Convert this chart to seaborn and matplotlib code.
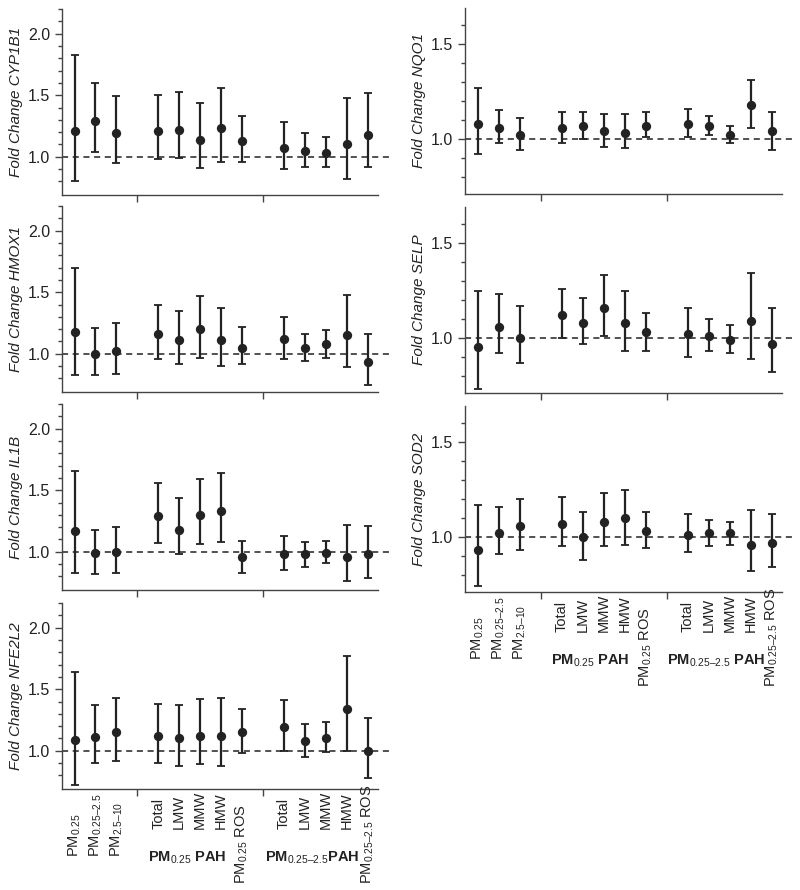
import seaborn as sns
import matplotlib.pyplot as plt
import pandas as pd

# theme first, fonts after (set_theme resets font.family)
sns.set_theme(style="ticks")
plt.rcParams['font.family'] = ['Liberation Sans', 'DejaVu Sans']
plt.rcParams['mathtext.fontset'] = 'custom'
plt.rcParams['mathtext.rm'] = 'Liberation Sans'
plt.rcParams['mathtext.it'] = 'Liberation Sans:italic'
plt.rcParams['mathtext.bf'] = 'Liberation Sans:bold'

# ---- data ----
group1 = ['PM$_{0.25}$', 'PM$_{0.25\u20132.5}$', 'PM$_{2.5\u201310}$']
group2 = ['Total', 'LMW', 'MMW', 'HMW', 'PM$_{0.25}$ ROS']
group3 = ['Total', 'LMW', 'MMW', 'HMW', 'PM$_{0.25\u20132.5}$ ROS']
titles_left = ['PM$_{0.25}$ PAH', 'PM$_{0.25\u20132.5}$PAH']
titles_right = ['PM$_{0.25}$ PAH', 'PM$_{0.25\u20132.5}$ PAH']

fc_cyp1b1 = [1.21, 1.29, 1.19, 1.21, 1.22, 1.14, 1.23, 1.13, 1.07, 1.05, 1.03, 1.10, 1.18]
lo_cyp1b1 = [0.80, 1.04, 0.95, 0.98, 0.99, 0.91, 0.96, 0.96, 0.90, 0.92, 0.92, 0.82, 0.92]
hi_cyp1b1 = [1.83, 1.60, 1.49, 1.50, 1.53, 1.44, 1.56, 1.33, 1.28, 1.19, 1.16, 1.48, 1.52]

fc_hmox1 = [1.18, 1.00, 1.02, 1.16, 1.11, 1.20, 1.11, 1.05, 1.12, 1.05, 1.08, 1.15, 0.93]
lo_hmox1 = [0.83, 0.83, 0.84, 0.96, 0.92, 0.97, 0.90, 0.92, 0.96, 0.94, 0.97, 0.89, 0.75]
hi_hmox1 = [1.70, 1.21, 1.25, 1.40, 1.35, 1.47, 1.37, 1.22, 1.30, 1.16, 1.19, 1.48, 1.16]

fc_il1b = [1.17, 0.99, 1.00, 1.29, 1.18, 1.30, 1.33, 0.96, 0.98, 0.98, 0.99, 0.96, 0.98]
lo_il1b = [0.83, 0.82, 0.83, 1.07, 0.98, 1.06, 1.08, 0.83, 0.85, 0.88, 0.91, 0.76, 0.79]
hi_il1b = [1.66, 1.18, 1.20, 1.56, 1.44, 1.59, 1.64, 1.09, 1.13, 1.08, 1.09, 1.22, 1.21]

fc_nfe2l2 = [1.09, 1.11, 1.15, 1.12, 1.10, 1.12, 1.12, 1.15, 1.19, 1.08, 1.10, 1.34, 1.00]
lo_nfe2l2 = [0.72, 0.90, 0.92, 0.90, 0.88, 0.89, 0.88, 0.98, 1.00, 0.95, 0.99, 1.00, 0.78]
hi_nfe2l2 = [1.64, 1.37, 1.43, 1.38, 1.37, 1.42, 1.43, 1.34, 1.41, 1.22, 1.23, 1.77, 1.27]

fc_nqo1 = [1.08, 1.06, 1.02, 1.06, 1.07, 1.04, 1.03, 1.07, 1.08, 1.07, 1.02, 1.18, 1.04]
lo_nqo1 = [0.92, 0.98, 0.94, 0.98, 1.00, 0.96, 0.95, 1.01, 1.01, 1.02, 0.98, 1.06, 0.94]
hi_nqo1 = [1.27, 1.15, 1.11, 1.14, 1.14, 1.13, 1.13, 1.14, 1.16, 1.12, 1.07, 1.31, 1.14]

fc_selp = [0.95, 1.06, 1.00, 1.12, 1.08, 1.16, 1.08, 1.03, 1.02, 1.01, 0.99, 1.09, 0.97]
lo_selp = [0.73, 0.92, 0.87, 1.00, 0.97, 1.01, 0.93, 0.93, 0.90, 0.93, 0.92, 0.89, 0.82]
hi_selp = [1.25, 1.23, 1.17, 1.26, 1.21, 1.33, 1.25, 1.13, 1.16, 1.10, 1.07, 1.34, 1.16]

fc_sod2 = [0.93, 1.02, 1.06, 1.07, 1.00, 1.08, 1.10, 1.03, 1.01, 1.02, 1.02, 0.96, 0.97]
lo_sod2 = [0.74, 0.91, 0.93, 0.95, 0.88, 0.95, 0.96, 0.94, 0.92, 0.95, 0.96, 0.82, 0.84]
hi_sod2 = [1.17, 1.16, 1.20, 1.21, 1.13, 1.23, 1.25, 1.13, 1.12, 1.09, 1.08, 1.14, 1.12]

# x positions: groups separated by one empty slot
groups = [group1, group2, group3]
xpos, seps, centers = [], [], []
p = 0
for g in groups:
    xs = list(range(p, p + len(g)))
    xpos += xs
    centers.append((xs[0] + xs[-2]) / 2)
    p += len(g) + 1
    seps.append(p - 1)
seps = seps[:-1]
labels = group1 + group2 + group3

genes_left = [('CYP1B1', fc_cyp1b1, lo_cyp1b1, hi_cyp1b1),
              ('HMOX1', fc_hmox1, lo_hmox1, hi_hmox1),
              ('IL1B', fc_il1b, lo_il1b, hi_il1b),
              ('NFE2L2', fc_nfe2l2, lo_nfe2l2, hi_nfe2l2)]
genes_right = [('NQO1', fc_nqo1, lo_nqo1, hi_nqo1),
               ('SELP', fc_selp, lo_selp, hi_selp),
               ('SOD2', fc_sod2, lo_sod2, hi_sod2)]

W, H = 800, 890
fig = plt.figure(figsize=(W / 100, H / 100), dpi=100)
dark = '#222222'
axcol = '#444444'
PT = 0.72  # px -> pt


def panel(rect, gene, fc, lo, hi, ylim, yticks, minor, titles=None):
    x0, top, w, h = rect
    ax = fig.add_axes([x0 / W, 1 - (top + h) / H, w / W, h / H])
    df = pd.DataFrame({'x': xpos, 'fc': fc, 'lo': lo, 'hi': hi})
    ax.errorbar(df['x'], df['fc'],
                yerr=[df['fc'] - df['lo'], df['hi'] - df['fc']],
                fmt='none', ecolor=dark, elinewidth=1.6, capsize=3, capthick=1.3, zorder=2)
    sns.scatterplot(data=df, x='x', y='fc', ax=ax, color=dark, s=45,
                    edgecolor=dark, linewidth=0, zorder=3, legend=False)
    ax.plot([-0.6, 15.1], [1, 1], ls=(0, (4, 3)), color=dark, lw=1.1, clip_on=False, zorder=1)
    ax.set_xlim(-0.6, 14.5)
    ax.set_ylim(*ylim)
    ax.set_yticks(yticks)
    ax.set_yticklabels([f'{t:.1f}' for t in yticks], fontsize=11.5, color=dark)
    ax.set_yticks(minor, minor=True)
    ax.set_xticks(seps)
    ax.set_xticklabels([])
    ax.tick_params(axis='both', which='major', length=5, width=1, color=axcol, direction='out')
    ax.tick_params(axis='y', which='minor', length=3, width=1, color=axcol, direction='out')
    sns.despine(ax=ax)
    for s in ['left', 'bottom']:
        ax.spines[s].set_color(axcol)
        ax.spines[s].set_linewidth(1)
    ax.set_xlabel('')
    ax.set_ylabel(f'Fold Change {gene}', fontsize=11, style='italic', color=dark)
    ax.yaxis.set_label_coords(-46 / w, 0.5)
    ax.yaxis.label.set_va('center')
    if titles:
        off = {0: 68, 1: 40, 2: 40}
        for i, (x, lab) in enumerate(zip(xpos, labels)):
            g = 0 if i < 3 else (1 if i < 8 else 2)
            d = off[g]
            if lab.endswith('ROS'):
                d = 95
            ax.annotate(lab, xy=(x, 0), xycoords=('data', 'axes fraction'),
                        xytext=(0, -d * PT), textcoords='offset points',
                        rotation=90, ha='center', va='bottom', fontsize=10.5, color=dark,
                        annotation_clip=False)
        for c, t in zip(centers[1:], titles):
            ax.annotate(t, xy=(c, 0), xycoords=('data', 'axes fraction'),
                        xytext=(-2, -69 * PT), textcoords='offset points',
                        ha='center', va='center', fontsize=10.5, fontweight='bold',
                        color=dark, annotation_clip=False)
    return ax


left_tops = [9, 206, 404, 603]
for i, (gene, fc, lo, hi) in enumerate(genes_left):
    panel((62, left_tops[i], 316, 186), gene, fc, lo, hi, (0.69, 2.2),
          [1.0, 1.5, 2.0], [0.8, 0.9, 1.1, 1.2, 1.3, 1.4, 1.6, 1.7, 1.8, 1.9, 2.1, 2.2],
          titles_left if i == len(genes_left) - 1 else None)

right_tops = [8, 207, 406]
for i, (gene, fc, lo, hi) in enumerate(genes_right):
    panel((465, right_tops[i], 317, 186), gene, fc, lo, hi, (0.71, 1.69),
          [1.0, 1.5], [0.8, 0.9, 1.1, 1.2, 1.3, 1.4, 1.6],
          titles_right if i == len(genes_right) - 1 else None)

fig.savefig('out.png', dpi=100)
